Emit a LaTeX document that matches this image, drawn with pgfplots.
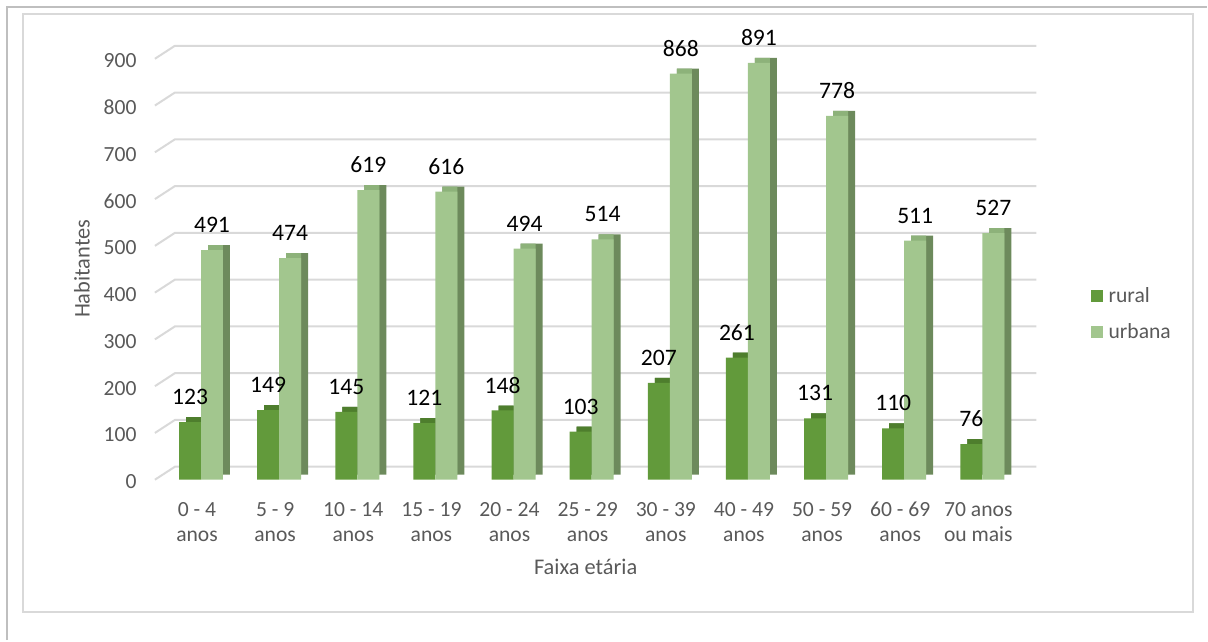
\documentclass[border=0pt]{standalone}
\usepackage{pgfplots}
\pgfplotsset{compat=1.18}
\usepackage{fontspec}
\setmainfont{Carlito}
\definecolor{rurF}{HTML}{629A3B}
\definecolor{rurT}{HTML}{4E7E2D}
\definecolor{rurS}{HTML}{46702C}
\definecolor{urbF}{HTML}{A2C68E}
\definecolor{urbT}{HTML}{8DB27A}
\definecolor{urbS}{HTML}{6D8A5C}
\definecolor{gridc}{HTML}{D9D9D9}
\definecolor{tc}{HTML}{595959}
\definecolor{outerc}{HTML}{BFBFBF}
\begin{document}
\begin{tikzpicture}
\begin{axis}[
  scale only axis, width=433.5pt, height=210.6pt,
  xmin=-0.59, xmax=10.5, ymin=0, ymax=900,
  ybar, clip=false,
  axis line style={draw=none}, tick style={draw=none},
  xtick={0,...,10},
  xticklabels={{0 - 4\\anos},{5 - 9\\anos},{10 - 14\\anos},{15 - 19\\anos},{20 - 24\\anos},{25 - 29\\anos},{30 - 39\\anos},{40 - 49\\anos},{50 - 59\\anos},{60 - 69\\anos},{70 anos\\ou mais}},
  ytick={0,100,...,900},
  /pgf/number format/assume math mode=true,
  ticklabel style={font=\fontsize{10.8}{12.5}\selectfont, text=tc},
  xticklabel style={align=center, anchor=north, inner sep=0pt, yshift=-6.8pt, xshift=-2pt},
  yticklabel style={anchor=east, inner sep=0pt, xshift=-9pt, yshift=-1pt},
  legend style={at={(1.0796,0.394)}, anchor=west, draw=none, fill=none, inner sep=0pt,
    font=\fontsize{10.8}{12}\selectfont, text=tc, row sep=11pt,
    nodes={inner sep=0pt, text height=7pt, text depth=0pt},
    /tikz/every odd column/.style={column sep=3pt}},
  legend cell align=left,
]
\pgfplotsinvokeforeach{0,100,...,900}{
  \draw[gridc, line width=1pt] (axis cs:-0.59,#1) -- ([shift={(10pt,6.5pt)}]axis cs:-0.59,#1) -- ([shift={(7.5pt,6.5pt)}]axis cs:10.5,#1);
}
% rural
\addplot[forget plot, fill=rurS, draw=none, bar width=11pt, bar shift=-2pt, yshift=2.5pt]
  coordinates {(0,123) (1,149) (2,145) (3,121) (4,148) (5,103) (6,207) (7,261) (8,131) (9,110) (10,76)};
\addplot[forget plot, fill=rurT, draw=none, bar width=7.5pt, bar shift=-3.75pt, yshift=2.5pt]
  coordinates {(0,123) (1,149) (2,145) (3,121) (4,148) (5,103) (6,207) (7,261) (8,131) (9,110) (10,76)};
\addplot[forget plot, fill=rurF, draw=none, bar width=11pt, bar shift=-5.5pt,
  nodes near coords, every node near coord/.append style={font=\fontsize{11.8}{14}\selectfont, text=black, anchor=base, inner sep=0pt, yshift=8.75pt}]
  coordinates {(0,123) (1,149) (2,145) (3,121) (4,148) (5,103) (6,207) (7,261) (8,131) (9,110) (10,76)};
% urbana
\addplot[forget plot, fill=urbS, draw=none, bar width=11pt, bar shift=9pt, yshift=2.5pt]
  coordinates {(0,491) (1,474) (2,619) (3,616) (4,494) (5,514) (6,868) (7,891) (8,778) (9,511) (10,527)};
\addplot[forget plot, fill=urbT, draw=none, bar width=7.5pt, bar shift=7.25pt, yshift=2.5pt]
  coordinates {(0,491) (1,474) (2,619) (3,616) (4,494) (5,514) (6,868) (7,891) (8,778) (9,511) (10,527)};
\addplot[forget plot, fill=urbF, draw=none, bar width=11pt, bar shift=5.5pt,
  nodes near coords, every node near coord/.append style={font=\fontsize{11.8}{14}\selectfont, text=black, anchor=base, inner sep=0pt, yshift=8.75pt}]
  coordinates {(0,491) (1,474) (2,619) (3,616) (4,494) (5,514) (6,868) (7,891) (8,778) (9,511) (10,527)};
\addlegendimage{legend image code/.code={\fill[rurF] (0pt,-2.75pt) rectangle (5.5pt,2.75pt);}}
\addlegendentry{rural}
\addlegendimage{legend image code/.code={\fill[urbF] (0pt,-2.75pt) rectangle (5.5pt,2.75pt);}}
\addlegendentry{urbana}
\end{axis}
\begin{scope}[shift={(-77.5pt,240pt)}, x=0.5pt, y=-0.5pt]
  \path (0,0) rectangle (1208,641);
  \draw[outerc, line width=1.2pt] (7,640.5) -- (7,7) -- (1207.5,7);
  \draw[gridc, line width=1pt] (23,14) rectangle (1194,612);
  \node[rotate=90, text=tc, font=\fontsize{11.2}{13}\selectfont] at (82,269) {Habitantes};
  \node[text=tc, font=\fontsize{11.2}{13}\selectfont] at (586,567) {Faixa etária};
\end{scope}
\end{tikzpicture}
\end{document}
